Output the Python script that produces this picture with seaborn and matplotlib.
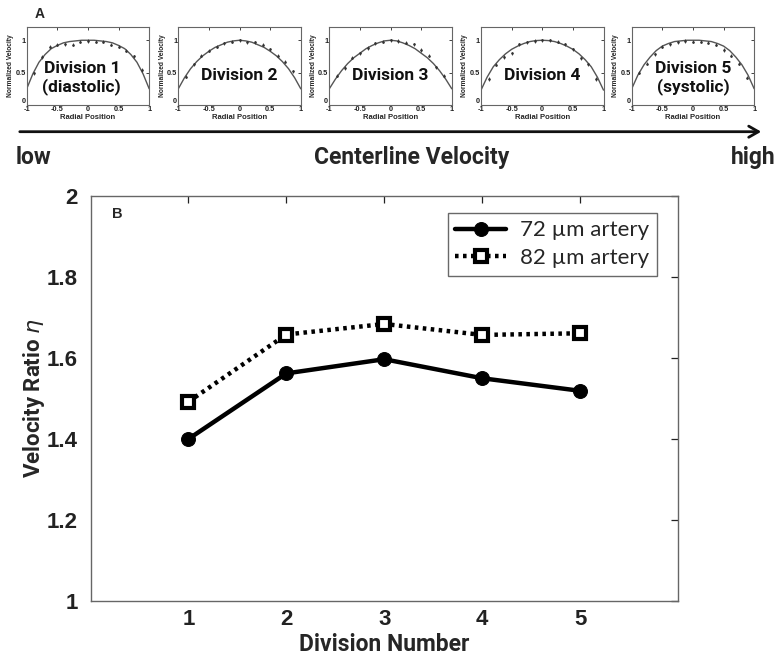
import numpy as np
import pandas as pd
import matplotlib
matplotlib.use("Agg")
import matplotlib.pyplot as plt
import seaborn as sns

# ---------------- data ----------------
divisions = [1, 2, 3, 4, 5]
eta_72 = [1.40, 1.562, 1.597, 1.550, 1.519]
eta_82 = [1.492, 1.658, 1.684, 1.657, 1.661]
series_labels = ["72 \u00b5m artery", "82 \u00b5m artery"]

panel_titles = ["Division 1\n(diastolic)", "Division 2", "Division 3", "Division 4", "Division 5\n(systolic)"]

radial_pos = [-1.0, -0.9, -0.8, -0.7, -0.6, -0.5, -0.4, -0.3, -0.2, -0.1, 0.0,
              0.1, 0.2, 0.3, 0.4, 0.5, 0.6, 0.7, 0.8, 0.9, 1.0]
profile_div1 = [0.25, 0.48, 0.66, 0.78, 0.87, 0.92, 0.96, 0.98, 0.99, 1.0, 1.0,
                1.0, 0.99, 0.98, 0.96, 0.92, 0.87, 0.78, 0.66, 0.48, 0.25]
profile_div2 = [0.25, 0.42, 0.56, 0.67, 0.76, 0.83, 0.89, 0.93, 0.97, 0.99, 1.0,
                0.99, 0.97, 0.93, 0.89, 0.83, 0.76, 0.67, 0.56, 0.42, 0.25]
profile_div3 = [0.25, 0.40, 0.53, 0.64, 0.73, 0.80, 0.87, 0.92, 0.96, 0.99, 1.0,
                0.99, 0.96, 0.92, 0.87, 0.80, 0.73, 0.64, 0.53, 0.40, 0.25]
profile_div4 = [0.23, 0.43, 0.59, 0.70, 0.79, 0.86, 0.91, 0.95, 0.98, 0.995, 1.0,
                0.995, 0.98, 0.95, 0.91, 0.86, 0.79, 0.70, 0.59, 0.43, 0.23]
profile_div5 = [0.25, 0.46, 0.62, 0.74, 0.84, 0.91, 0.95, 0.98, 0.99, 1.0, 1.0,
                1.0, 0.99, 0.98, 0.95, 0.91, 0.84, 0.74, 0.62, 0.46, 0.25]
profiles = [profile_div1, profile_div2, profile_div3, profile_div4, profile_div5]

sample_pos = [-0.875, -0.75, -0.625, -0.5, -0.375, -0.25, -0.125, 0.0,
              0.125, 0.25, 0.375, 0.5, 0.625, 0.75, 0.875]
samples_div1 = [0.49, 0.74, 0.90, 0.93, 0.94, 0.93, 0.98, 0.99, 0.98, 0.98, 0.93, 0.90, 0.84, 0.75, 0.54]
samples_div2 = [0.44, 0.63, 0.76, 0.84, 0.90, 0.95, 0.98, 1.00, 0.97, 0.97, 0.93, 0.86, 0.76, 0.67, 0.52]
samples_div3 = [0.45, 0.57, 0.73, 0.80, 0.88, 0.95, 0.98, 1.00, 0.99, 0.96, 0.94, 0.85, 0.76, 0.58, 0.45]
samples_div4 = [0.40, 0.62, 0.74, 0.80, 0.94, 0.97, 0.99, 1.00, 1.00, 0.98, 0.94, 0.86, 0.72, 0.63, 0.40]
samples_div5 = [0.50, 0.64, 0.78, 0.90, 0.94, 0.97, 0.99, 0.98, 0.98, 0.96, 0.93, 0.85, 0.76, 0.64, 0.42]
samples = [samples_div1, samples_div2, samples_div3, samples_div4, samples_div5]

# ---------------- style ----------------
sns.set_theme(style="white")
plt.rcParams['font.family'] = ['Liberation Sans', 'DejaVu Sans']
NARROW = ['Liberation Sans Narrow', 'Roboto', 'DejaVu Sans']
REG = ['Lato', 'DejaVu Sans']

W, H = 775, 658
fig = plt.figure(figsize=(W / 100, H / 100), dpi=100)


def fx(px):
    return px / W


def fy(py):
    return 1 - py / H


# ---------------- panel A: five small profile plots ----------------
panel_lefts = [26.7, 178.3, 329.3, 481.0, 631.7]
pw, ptop, pbot = 122.5, 27.3, 105.0
for i, left in enumerate(panel_lefts):
    ax = fig.add_axes([fx(left), fy(pbot), fx(pw), (pbot - ptop) / H])
    dfc = pd.DataFrame({"r": radial_pos, "v": profiles[i]})
    sns.lineplot(data=dfc, x="r", y="v", ax=ax, color="#555555", lw=1.0, sort=False)
    ax.errorbar(sample_pos, samples[i], yerr=0.025, fmt="o", ms=0.9, color="#333333",
                ecolor="#333333", elinewidth=0.6, capsize=0)
    ax.set_xlim(-1, 1)
    ax.set_ylim(0, 1.2)
    ax.set_xticks([-1, -0.5, 0, 0.5, 1])
    ax.set_xticklabels(["-1", "-0.5", "0", "0.5", "1"])
    ax.set_yticks([0, 0.5, 1])
    ax.set_yticklabels(["0", "0.5", "1"])
    ax.tick_params(direction="in", length=2.5, width=0.6, top=True, right=True,
                   labelsize=5.3, pad=0.8, colors="#222222")
    for lab in ax.get_xticklabels() + ax.get_yticklabels():
        lab.set_fontweight("bold")
    ax.get_yticklabels()[0].set_verticalalignment("bottom")
    ax.set_xlabel("Radial Position", fontsize=5.5, fontweight="bold", labelpad=0.5)
    ax.set_ylabel("Normalized Velocity", fontsize=4.8, fontweight="bold", labelpad=1)
    for s in ax.spines.values():
        s.set_color("#666666")
        s.set_linewidth(0.8)
    ty = 0.42 if "\n" in panel_titles[i] else 0.45
    tx = -0.1 if i == 0 else 0.0
    ax.text(tx, ty, panel_titles[i], ha="center", va="center", fontsize=12.5,
            fontweight="bold", family=NARROW, linespacing=1.2,
            color="#111111")

fig.text(fx(35), fy(14), "A", fontsize=10, fontweight="bold", ha="left", va="center")

# ---------------- arrow and labels ----------------
fig.patches.append(matplotlib.patches.FancyArrowPatch(
    (fx(17), fy(131.7)), (fx(764), fy(131.7)), transform=fig.transFigure,
    arrowstyle="->,head_length=7,head_width=4", lw=2.0, color="#111111",
    mutation_scale=1))
fig.text(fx(16), fy(158), "low", fontsize=16.5, fontweight="bold", ha="left", va="center",
         family=NARROW)
fig.text(fx(412), fy(158), "Centerline Velocity", fontsize=16.5, fontweight="bold",
         ha="center", va="center", family=NARROW)
fig.text(fx(776), fy(158), "high", fontsize=16.5, fontweight="bold", ha="right", va="center",
         family=NARROW)

# ---------------- panel B: main chart ----------------
axL, axR, axT, axB = 90.5, 678.0, 196.0, 601.0
ax = fig.add_axes([fx(axL), fy(axB), (axR - axL) / W, (axB - axT) / H])

df = pd.DataFrame({
    "Division": divisions * 2,
    "eta": eta_72 + eta_82,
    "series": [series_labels[0]] * 5 + [series_labels[1]] * 5,
})
sns.lineplot(data=df[df.series == series_labels[0]], x="Division", y="eta", ax=ax,
             color="black", lw=3.2, marker="o", ms=10, mec="black", mfc="black",
             label=series_labels[0])
sns.lineplot(data=df[df.series == series_labels[1]], x="Division", y="eta", ax=ax,
             color="black", lw=3.2, marker="s", ms=9, mec="black", mfc="white", mew=3,
             label=series_labels[1])
ax.lines[1].set_dashes([0.8, 1.0])

ax.set_xlim(0, 6)
ax.set_ylim(1, 2)
ax.set_xticks(divisions)
ax.set_yticks([1, 1.2, 1.4, 1.6, 1.8, 2])
ax.set_yticklabels(["1", "1.2", "1.4", "1.6", "1.8", "2"])
ax.tick_params(direction="in", length=5, width=0.9, top=True, right=True,
               labeltop=False, labelright=False, labelsize=16, pad=9, colors="#222222")
ax.tick_params(axis="x", pad=6)
for lab in ax.get_xticklabels() + ax.get_yticklabels():
    lab.set_fontweight("bold")
for s in ax.spines.values():
    s.set_color("#666666")
    s.set_linewidth(1.0)

ax.set_xlabel("Division Number", fontsize=16.5, fontweight="bold", family=NARROW,
              labelpad=2)
ax.set_ylabel("Velocity Ratio $\\mathit{\\eta}$", fontsize=16, fontweight="bold",
              family=NARROW, labelpad=0)

ax.text(0.037, 0.955, "B", transform=ax.transAxes, fontsize=10.5, fontweight="bold",
        ha="left", va="center")

leg = ax.legend(loc="upper right", bbox_to_anchor=((656.7 - axL) / (axR - axL), (axB - 212.7) / (axB - axT)),
                borderaxespad=0, frameon=True, fancybox=False, handlelength=2.3,
                handletextpad=0.6, borderpad=0.35, labelspacing=0.35,
                prop={"family": REG, "size": 16})
leg.get_frame().set_edgecolor("#444444")
leg.get_frame().set_linewidth(1.0)

fig.savefig("out.png", dpi=100)
